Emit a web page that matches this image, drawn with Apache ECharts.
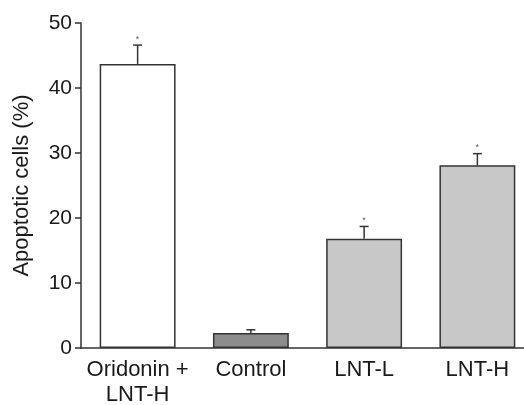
<!DOCTYPE html>
<html><head><meta charset="utf-8">
<script src="https://cdn.jsdelivr.net/npm/echarts@6/dist/echarts.min.js"></script>
<style>html,body{margin:0;padding:0;background:#fff;overflow:hidden}#c{width:524px;height:405px}</style>
</head><body><div id="c"></div>
<script>
const categories = ['Oridonin +\nLNT-H', 'Control', 'LNT-L', 'LNT-H'];
const values = [43.7, 2.3, 16.8, 28.1];
const errors = [2.9, 0.5, 1.9, 1.8];
const significant = [true, false, true, true];
const yTicks = [0, 10, 20, 30, 40, 50];
const fills = ['#ffffff', '#8c8c8c', '#c8c8c8', '#c8c8c8'];

const chart = echarts.init(document.getElementById('c'));
const font = 'Liberation Sans, Arial, sans-serif';
chart.setOption({
  animation: false,
  grid: {left: 81, top: 23, bottom: 57, width: 453, outerBoundsMode: 'none', containLabel: false},
  xAxis: {
    type: 'category', data: categories,
    axisLine: {lineStyle: {color: '#333', width: 1.5}},
    axisTick: {inside: true, length: 6, lineStyle: {color: '#333', width: 1.5}},
    axisLabel: {interval: 0, color: '#1a1a1a', fontSize: 22, fontFamily: font, margin: 9, lineHeight: 25}
  },
  yAxis: {
    type: 'value', min: yTicks[0], max: yTicks[yTicks.length - 1], interval: 10,
    name: 'Apoptotic cells (%)', nameLocation: 'middle', nameGap: 48,
    nameTextStyle: {color: '#1a1a1a', fontSize: 22, fontFamily: font},
    splitLine: {show: false},
    axisLine: {show: true, lineStyle: {color: '#333', width: 1.5}},
    axisTick: {show: true, length: 6, lineStyle: {color: '#333', width: 1.5}},
    axisLabel: {color: '#1a1a1a', fontSize: 21, fontFamily: font, margin: 9}
  },
  series: [
    {
      type: 'bar', barWidth: '67%',
      data: values.map((v, i) => ({value: v, itemStyle: {color: fills[i]}})),
      itemStyle: {borderColor: '#333', borderWidth: 1.5},
      z: 2
    },
    {
      type: 'custom', z: 3,
      data: values.map((v, i) => [i, v, v + errors[i], significant[i] ? 1 : 0]),
      renderItem: function (params, api) {
        const base = api.coord([api.value(0), api.value(1)]);
        const top = api.coord([api.value(0), api.value(2)]);
        const children = [
          {type: 'line', shape: {x1: base[0], y1: base[1], x2: top[0], y2: top[1]}, style: {stroke: '#333', lineWidth: 1.5}},
          {type: 'line', shape: {x1: top[0] - 4.5, y1: top[1], x2: top[0] + 4.5, y2: top[1]}, style: {stroke: '#333', lineWidth: 1.5}}
        ];
        if (api.value(3)) {
          children.push({type: 'text', style: {text: '*', x: top[0], y: top[1] - 6, textAlign: 'center', textVerticalAlign: 'middle', fontSize: 9, fill: '#666', fontFamily: font}});
        }
        return {type: 'group', children: children};
      }
    }
  ]
});
</script></body></html>
